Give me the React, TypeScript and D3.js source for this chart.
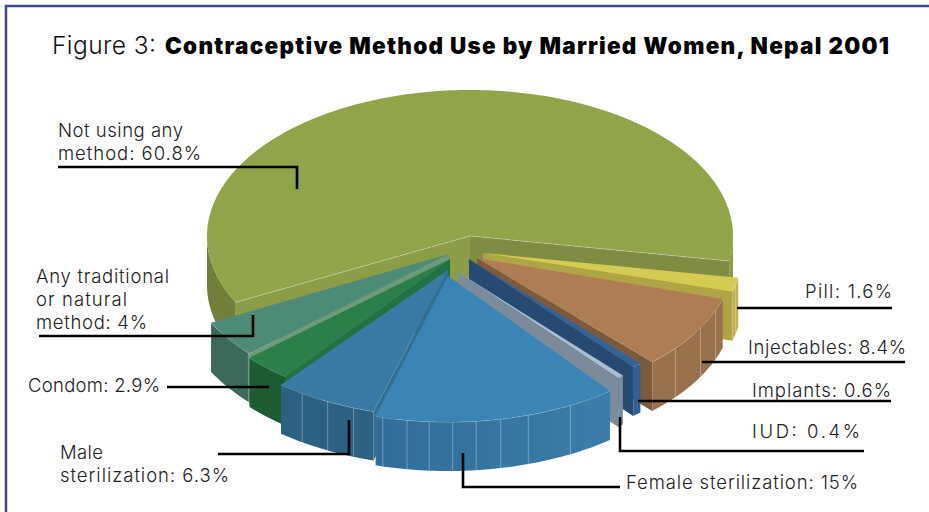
import React from "react";
import * as d3 from "d3";

const categories = ["Not using any method","Pill","Injectables","Implants","IUD","Female sterilization","Male sterilization","Condom","Any traditional or natural method"];
const shares = [60.8,1.6,8.4,0.6,0.4,15,6.3,2.9,4];

const W = 929, H = 512, RX = 263, RY = 146, DEPTH = 49;
// order of painting, back to front (index into categories)
const paintOrder = [0,8,7,6,1,2,3,4,5];
// slice placement on the page: cut-out apex, radius factor, angle nudge in degrees
const apexX = [470,483,477,469,458,448,448,450,449];
const apexY = [236,253,258,259,272,276,270,259,254];
const radiusK = [1,0.985,0.975,0.968,0.947,1,1.01,1.02,1.02];
const nudge = [0,0,1,1.8,0.5,2.5,2.8,1.8,1.5];
const startTrim = [2,0,0,0,0,0,0,0,0];
const topFill = ["#92a44a","#d6cb52","#ad7d55","#34639a","#a9bfd0","#3b84b6","#3a7ba5","#2a7f4a","#4d8b78"];
const wallFill = ["#7f8c42","#b0a545","#7e5a3c","#264a72","#7c8b99","#2f6a96","#336f90","#237043","#6d9a78"];
const rimFill = ["#717f3a","#bdb24c","#99704c","#2f5f94","#7c8b99","url(#femaleRim)","#2d6182","#1d5c32","#3c6a5a"];
// rib lines on each slice's rim, as fractions along its front arc
const ribFractions: number[][] = [[],[0.5],[0.16,0.42,0.75],[],[],[0.19,0.375,0.49,0.59,0.685,0.78,0.87,0.97],[0.2,0.47,0.75],[],[0.02]];

type Label = { lines: string[]; x: number; ys: number[]; ws: number[]; leader: [number, number][] };
const labels: Label[] = [
  { lines:["Not using any","method: 60.8%"], x:58, ys:[137,160], ws:[125,143], leader:[[58,167],[297,167],[297,189]] },
  { lines:["Any traditional","or natural","method: 4%"], x:36, ys:[283,306,329], ws:[133,91,111], leader:[[39,336],[253,336],[253,315]] },
  { lines:["Condom: 2.9%"], x:28, ys:[392], ws:[132], leader:[[167,387],[269,387]] },
  { lines:["Male","sterilization: 6.3%"], x:60, ys:[459,482], ws:[43,169], leader:[[218,454],[349,454],[349,420]] },
  { lines:["Female sterilization: 15%"], x:626, ys:[489], ws:[232], leader:[[620,487],[463,487],[463,453]] },
  { lines:["IUD: 0.4%"], x:752, ys:[438], ws:[108], leader:[[864,451],[620,451],[620,417]] },
  { lines:["Implants: 0.6%"], x:752, ys:[397], ws:[139], leader:[[891,401],[638,401]] },
  { lines:["Injectables: 8.4%"], x:748, ys:[354], ws:[158], leader:[[905,362],[702,362]] },
  { lines:["Pill: 1.6%"], x:805, ys:[298], ws:[87], leader:[[892,308],[737,308]] },
];

const rad = (d: number) => (d * Math.PI) / 180;
const arcs = d3.pie<number>().sort(null).startAngle(rad(-119)).endAngle(rad(241))(shares);
const lineGen = d3.line();

function project(i: number, a: number, k: number, drop = 0): [number, number] {
  const sx = d3.scaleLinear().domain([-1,1]).range([apexX[i]-RX, apexX[i]+RX]);
  const sy = d3.scaleLinear().domain([-1,1]).range([apexY[i]-RY, apexY[i]+RY]);
  return [sx(k*Math.sin(a)), sy(-k*Math.cos(a)) + drop];
}
const closed = (pts: [number,number][]) => (lineGen(pts) as string) + "Z";
const sweep = (a0: number, a1: number) => {
  const n = Math.max(2, Math.ceil(Math.abs(a1-a0)/rad(1)));
  return d3.range(n+1).map(j => a0 + (a1-a0)*j/n);
};

function Slice({ i }: { i: number }) {
  const arc = arcs[i];
  const s = rad(nudge[i]);
  const a0 = arc.startAngle + s + rad(startTrim[i]), a1 = arc.endAngle + s;
  const k = radiusK[i];
  const V: [number,number] = [apexX[i], apexY[i]];
  const Vd: [number,number] = [V[0], V[1]+DEPTH];
  const deg = (a: number) => ((a*180/Math.PI)%360+360)%360;
  const d0 = deg(a0), d1 = deg(a1);

  const walls: React.ReactNode[] = [];
  if (d1 > 90 && d1 < 180) {
    const P = project(i,a1,k);
    walls.push(<path key="we" d={closed([V,P,[P[0],P[1]+DEPTH],Vd])} fill={wallFill[i]} />);
  }
  if (d0 > 180 && d0 < 270) {
    const P = project(i,a0,k);
    walls.push(<path key="ws" d={closed([V,P,[P[0],P[1]+DEPTH],Vd])} fill={i===0?"#8c9d48":wallFill[i]} />);
  }

  // front-facing rim: the part of the arc between 90 and 270 degrees
  const ranges: [number,number][] = [];
  for (const off of [-360,0,360]) {
    const lo = Math.max(a0, rad(90+off)), hi = Math.min(a1, rad(270+off));
    if (hi > lo) ranges.push([lo,hi]);
  }
  const rims = ranges.map(([lo,hi],r) => {
    const top = sweep(lo,hi).map(a => project(i,a,k));
    const bot = sweep(lo,hi).map(a => project(i,a,k,DEPTH)).reverse();
    const greenRight = i===0 && lo > rad(0);
    return (
      <g key={r}>
        <path d={closed([...top,...bot])} fill={greenRight?"#8b9b48":rimFill[i]} />
        {ribFractions[i].map((f,j)=>{
          const a = lo + (hi-lo)*f;
          const p=project(i,a,k), q=project(i,a,k,DEPTH);
          return <line key={j} x1={p[0]} y1={p[1]} x2={q[0]} y2={q[1]} stroke="#fff" strokeOpacity={0.35} strokeWidth={0.9}/>;
        })}
        <path d={lineGen(top) as string} fill="none" stroke="#fff" strokeOpacity={i===0?0:0.45} strokeWidth={0.8}/>
      </g>
    );
  });

  const topPts: [number,number][] = [V, ...sweep(a0,a1).map(a => project(i,a,k))];
  return (
    <g>
      {walls}
      {rims}
      <path d={closed(topPts)} fill={topFill[i]} />
      {i===0 && <path d={lineGen([project(0,a0,1),V,project(0,a1,1)]) as string} fill="none" stroke="#fff" strokeOpacity={0.5} strokeWidth={0.8} strokeDasharray="2 1"/>}
    </g>
  );
}

export default function App() {
  return (
    <svg width={W} height={H} viewBox={`0 0 ${W} ${H}`} style={{position:"absolute",left:0,top:0,background:"#fff"}}>
      <defs>
        <linearGradient id="femaleRim" x1="0" x2="1" y1="0" y2="0">
          <stop offset="0" stopColor="#326d98"/>
          <stop offset="1" stopColor="#3a7ea9"/>
        </linearGradient>
      </defs>
      <path d="M929 6H6V512" fill="none" stroke="#3f4596" strokeWidth={2.5}/>
      <text x={52} y={54} fontFamily="Inter" fontWeight={300} fontSize={24.5} fill="#111" textLength={104} lengthAdjust="spacing">Figure 3:</text>
      <text x={165} y={54} fontFamily="Inter" fontWeight={900} fontSize={22.5} fill="#000" textLength={724} lengthAdjust="spacing">Contraceptive Method Use by Married Women, Nepal 2001</text>
      {paintOrder.map(i => <Slice key={categories[i]} i={i}/>)}
      {labels.map(l => (
        <g key={l.lines.join(" ")}>
          <path d={lineGen(l.leader) as string} fill="none" stroke="#000" strokeWidth={2.6}/>
          {l.lines.map((t,j)=>(
            <text key={t} x={l.x} y={l.ys[j]} fontFamily="Inter" fontWeight={300} fontSize={18.5} fill="#222" textLength={l.ws[j]} lengthAdjust="spacing">{t}</text>
          ))}
        </g>
      ))}
    </svg>
  );
}
